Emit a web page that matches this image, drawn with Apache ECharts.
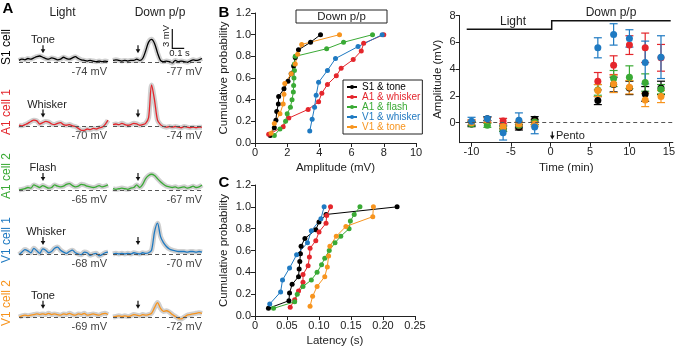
<!DOCTYPE html>
<html>
<head>
<meta charset="utf-8">
<script src="https://cdn.jsdelivr.net/npm/echarts@6/dist/echarts.min.js"></script>
<style>
  html, body { margin: 0; padding: 0; background: #fff; }
  #chart { width: 678px; height: 350px; }
</style>
</head>
<body>
<div id="chart"></div>
<script>
const FONT = '"Liberation Sans", Arial, sans-serif';
const INK = '#222';
const C_S1 = '#000000';
const C_A1W = '#e4262c';
const C_A1F = '#3aaa35';
const C_V1W = '#1f7ac2';
const C_V1T = '#f7941e';

// ---- Panel A: membrane potential traces (mV above rest), sampled every 25 ms
const TRACE_T = [0, 0.025, 0.05, 0.075, 0.1, 0.125, 0.15, 0.175, 0.2, 0.225, 0.25, 0.275, 0.3, 0.325, 0.35,
  0.375, 0.4, 0.425, 0.45, 0.475, 0.5, 0.525, 0.55, 0.575, 0.6, 0.625, 0.65, 0.675, 0.7, 0.725, 0.75];
const S1_LIGHT = [0.3, 0.5, 0.4, 0.6, 0.5, 0.7, 0.9, 1.0, 0.8, 0.6, 0.5, 0.7, 0.6, 0.4, 0.5, 0.8, 0.6, 0.5, 0.7, 0.9, 0.6, 0.4, 0.3, 0.2, 0.3, 0.2, 0.1, 0.2, 0.1, 0.2, 0.1];
const S1_DOWN = [0.3, 0.4, 0.3, 0.2, 0.3, 0.2, 0.3, 0.3, 0.5, 0.3, 0.6, 1.8, 3.2, 3.65, 3.0, 1.5, 0.3, 0.1, 0.2, 0.1, -0.1, 0.3, 0.1, 0.2, 0.1, 0.0, 0.2, 0.4, 0.3, 0.4, 0.6];
const A1W_LIGHT = [0.2, 0.1, 0.3, 0.5, 0.8, 1.0, 0.9, 0.4, 0.6, 0.8, 0.7, 0.4, 0.3, 0.5, 0.6, 0.3, 0.2, 0.3, 0.1, 0.0, -0.3, -0.6, -0.6, -0.4, -0.5, -0.3, -0.4, -0.2, -0.1, 0.3, 1.0];
const A1W_DOWN = [0.3, 0.4, 0.3, 0.5, 0.3, 0.2, 0.3, 0.5, 0.4, 0.2, 0.3, 0.5, 1.4, 6.6, 4.2, 1.0, 0.3, 0.0, -0.1, 0.0, -0.1, 0.0, -0.1, -0.2, 0.0, -0.1, -0.2, -0.1, -0.2, -0.1, -0.1];
const A1F_LIGHT = [0.0, 0.1, 0.2, 0.4, 0.3, 0.8, 0.6, 0.4, 0.7, 0.5, 0.3, 0.4, 0.8, 0.6, 0.5, 0.6, 0.9, 1.0, 0.7, 0.5, 0.6, 0.9, 0.8, 0.6, 0.5, 0.4, 0.5, 0.7, 0.5, 0.6, 0.8];
const A1F_DOWN = [0.2, 0.1, 0.2, 0.3, 0.2, 0.1, 0.3, 0.4, 0.8, 0.4, 0.9, 1.8, 2.3, 2.5, 2.3, 1.8, 1.3, 0.9, 0.6, 0.5, 0.4, 0.5, 0.3, 0.4, 0.5, 0.3, 0.4, 0.6, 0.4, 0.5, 0.8];
const V1W_LIGHT = [-0.1, 0.3, 0.7, 0.5, 0.2, 0.9, 0.5, 0.1, 0.8, 0.6, 0.2, 0.4, 0.9, 1.1, 0.6, 0.3, 0.1, 0.4, 0.6, 0.2, 0.0, -0.1, 0.3, 0.2, -0.2, 0.0, 0.1, -0.3, -0.1, 0.2, 0.3];
const V1W_DOWN = [0.0, 0.1, 0.0, 0.1, 0.0, 0.1, 0.0, 0.2, 0.1, 0.0, 0.2, 0.1, 0.2, 0.6, 3.5, 4.9, 2.8, 1.8, 1.2, 0.8, 0.6, 0.5, 0.4, 0.4, 0.4, 0.3, 0.4, 0.4, 0.3, 0.4, 0.3];
const V1T_LIGHT = [0.1, 0.3, 0.4, 0.3, 0.4, 0.5, 0.6, 0.5, 0.6, 0.5, 0.7, 0.5, 0.6, 0.5, 0.4, 0.6, 0.5, 0.7, 0.5, 0.4, 0.6, 0.5, 0.7, 0.4, 0.5, 0.6, 0.5, 0.4, 0.6, 0.7, 0.5];
const V1T_DOWN = [0.1, 0.2, 0.3, 0.2, 0.3, 0.2, 0.3, 0.5, 0.4, 0.3, 0.5, 0.4, 0.5, 0.7, 1.6, 2.4, 1.5, 1.0, 1.1, 0.9, 0.5, 0.2, -0.1, -0.2, 0.1, 0.4, 0.5, 0.6, 0.7, 0.8, 0.7];

const ROW_NAMES = ['S1 cell', 'A1 cell 1', 'A1 cell 2', 'V1 cell 1', 'V1 cell 2'];
const ROW_STIM = ['Tone', 'Whisker', 'Flash', 'Whisker', 'Tone'];
const REST_LIGHT = ['-74 mV', '-70 mV', '-65 mV', '-68 mV', '-69 mV'];
const REST_DOWN = ['-77 mV', '-74 mV', '-67 mV', '-70 mV', '-72 mV'];

// ---- Panel B (left) and C: cumulative distributions
const SERIES_NAMES = ['S1 & tone', 'A1 & whisker', 'A1 & flash', 'V1 & whisker', 'V1 & tone'];
const P_S1 = [0.07, 0.14, 0.21, 0.29, 0.36, 0.43, 0.5, 0.57, 0.64, 0.71, 0.79, 0.86, 0.93, 1.0];
const P_A1W = [0.08, 0.15, 0.23, 0.31, 0.38, 0.46, 0.54, 0.62, 0.69, 0.77, 0.85, 0.92, 1.0];
const P_A1F = [0.07, 0.13, 0.2, 0.27, 0.33, 0.4, 0.47, 0.53, 0.6, 0.67, 0.73, 0.8, 0.87, 0.93, 1.0];
const P_V1W = [0.11, 0.22, 0.33, 0.44, 0.56, 0.67, 0.78, 0.89, 1.0];
const P_V1T = [0.09, 0.18, 0.27, 0.36, 0.45, 0.55, 0.64, 0.73, 0.82, 0.91, 1.0];

const AMP_S1 = [0.95, 1.2, 1.3, 1.35, 1.45, 1.47, 1.8, 2.05, 2.25, 2.4, 2.5, 2.7, 3.45, 4.07];
const AMP_A1W = [0.85, 1.75, 2.1, 3.3, 3.95, 4.15, 4.5, 5.05, 5.35, 6.1, 6.6, 6.75, 8.0];
const AMP_A1F = [1.2, 1.55, 1.9, 2.0, 2.2, 2.3, 2.38, 2.4, 2.42, 2.45, 2.45, 2.5, 4.45, 5.5, 7.3];
const AMP_V1W = [3.4, 3.55, 3.7, 3.8, 3.95, 4.5, 5.0, 6.4, 7.9];
const AMP_V1T = [1.0, 1.2, 1.55, 1.75, 1.8, 1.85, 2.25, 2.5, 2.65, 2.9, 5.25];

const LAT_S1 = [0.021, 0.053, 0.054, 0.058, 0.068, 0.069, 0.07, 0.071, 0.072, 0.078, 0.095, 0.1, 0.111, 0.222];
const LAT_A1W = [0.055, 0.062, 0.068, 0.075, 0.075, 0.083, 0.085, 0.086, 0.095, 0.1, 0.111, 0.112, 0.118];
const LAT_A1F = [0.029, 0.062, 0.066, 0.075, 0.088, 0.097, 0.104, 0.109, 0.116, 0.125, 0.134, 0.147, 0.149, 0.155, 0.164];
const LAT_V1W = [0.023, 0.04, 0.043, 0.054, 0.065, 0.082, 0.088, 0.103, 0.108];
const LAT_V1T = [0.086, 0.09, 0.097, 0.109, 0.113, 0.115, 0.117, 0.127, 0.142, 0.184, 0.185];

// ---- Panel B (right): amplitude over time, mean and SEM
const TIME_MIN = [-10, -8, -6, -4, -2, 6, 8, 10, 12, 14];
const T_S1 = [-0.1, 0.3, -0.45, -0.35, 0.25, 1.65, 2.85, 2.6, 2.15, 2.6];
const T_S1_SEM = [0.2, 0.15, 0.2, 0.2, 0.2, 0.3, 0.55, 0.5, 0.55, 0.5];
const T_A1W = [0.0, 0.2, 0.12, -0.2, 0.05, 3.1, 4.3, 5.8, 5.6, 4.85];
const T_A1W_SEM = [0.2, 0.2, 0.2, 0.25, 0.2, 0.65, 0.7, 0.7, 1.1, 1.0];
const T_A1F = [-0.1, -0.2, -0.45, -0.2, 0.05, 2.45, 3.3, 3.4, 3.0, 2.5];
const T_A1F_SEM = [0.15, 0.15, 0.2, 0.2, 0.2, 0.4, 0.6, 0.85, 0.65, 0.35];
const T_V1W = [0.1, 0.3, -0.75, 0.18, -0.33, 5.6, 6.6, 6.3, 4.5, 4.9];
const T_V1W_SEM = [0.3, 0.15, 0.55, 0.55, 0.5, 0.75, 0.8, 0.65, 1.6, 1.6];
const T_V1T = [0.0, 0.2, -0.3, -0.1, -0.1, 2.4, 2.9, 2.65, 1.7, 1.95];
const T_V1T_SEM = [0.2, 0.2, 0.15, 0.2, 0.2, 0.45, 0.65, 0.5, 0.5, 0.45];

const chart = echarts.init(document.getElementById('chart'));

const PX_PER_MV = 6.3;
const ROW_BASELINE = [62.3, 126.5, 190, 254, 317.7];
const ROW_COLORS = [C_S1, C_A1W, C_A1F, C_V1W, C_V1T];
const ROW_TRACES = [[S1_LIGHT, S1_DOWN], [A1W_LIGHT, A1W_DOWN], [A1F_LIGHT, A1F_DOWN], [V1W_LIGHT, V1W_DOWN], [V1T_LIGHT, V1T_DOWN]];

const grids = [], xAxes = [], yAxes = [], series = [];

ROW_TRACES.forEach((pair, r) => {
  pair.forEach((trace, c) => {
    const gi = grids.length;
    grids.push({ left: c ? 113 : 19, top: ROW_BASELINE[r] - 8.5 * PX_PER_MV, width: 89, height: 10 * PX_PER_MV });
    xAxes.push({ gridIndex: gi, type: 'value', min: 0, max: 0.75, show: false });
    yAxes.push({ gridIndex: gi, type: 'value', min: -1.5, max: 8.5, show: false });
    const data = TRACE_T.map((t, i) => [t, trace[i]]);
    series.push({
      type: 'line', xAxisIndex: gi, yAxisIndex: gi, data, smooth: 0.3, symbol: 'none', silent: true,
      lineStyle: { color: 'rgba(150,150,150,0.45)', width: 5 }, z: 1,
    });
    series.push({
      type: 'line', xAxisIndex: gi, yAxisIndex: gi, data, smooth: 0.3, symbol: 'none', silent: true,
      lineStyle: { color: ROW_COLORS[r], width: 1.3 }, z: 3,
      markLine: {
        silent: true, symbol: 'none', label: { show: false },
        lineStyle: { color: '#555', type: [4, 3], width: 1 },
        data: [{ yAxis: 0 }],
      },
    });
  });
});

const axisCommon = {
  axisLine: { show: true, onZero: false, lineStyle: { color: INK, width: 1 } },
  axisTick: { show: true, length: 4, lineStyle: { color: INK } },
  axisLabel: { color: INK, fontSize: 11, fontFamily: FONT, margin: 4 },
  splitLine: { show: false },
  nameLocation: 'middle',
  nameTextStyle: { color: INK, fontSize: 11.5, fontFamily: FONT },
};

// grid 10: amplitude CDF, grid 11: time course, grid 12: latency CDF
const G_AMP = 10, G_TIME = 11, G_LAT = 12;
grids.push({ left: 255, top: 13, width: 161, height: 130 });
grids.push({ left: 459.7, top: 15.7, width: 216, height: 127 });
grids.push({ left: 255, top: 185, width: 160, height: 131 });

xAxes.push({ ...axisCommon, gridIndex: G_AMP, type: 'value', min: 0, max: 10, interval: 2, name: 'Amplitude (mV)', nameGap: 19 });
yAxes.push({ ...axisCommon, gridIndex: G_AMP, type: 'value', min: 0, max: 1.2, interval: 0.2, name: 'Cumulative probability', nameGap: 25,
  axisLabel: { ...axisCommon.axisLabel, formatter: v => v.toFixed(1) } });
xAxes.push({ ...axisCommon, gridIndex: G_TIME, type: 'value', min: -11.5, max: 15.5, name: 'Time (min)', nameGap: 19,
  axisLabel: { ...axisCommon.axisLabel, customValues: [-10, -5, 0, 5, 10, 15] },
  axisTick: { ...axisCommon.axisTick, customValues: [-10, -5, 0, 5, 10, 15] } });
yAxes.push({ ...axisCommon, gridIndex: G_TIME, type: 'value', min: -1.5, max: 8, name: 'Amplitude (mV)', nameGap: 16,
  axisLabel: { ...axisCommon.axisLabel, customValues: [0, 2, 4, 6, 8] },
  axisTick: { ...axisCommon.axisTick, customValues: [0, 2, 4, 6, 8] } });
xAxes.push({ ...axisCommon, gridIndex: G_LAT, type: 'value', min: 0, max: 0.25, interval: 0.05, name: 'Latency (s)', nameGap: 19,
  axisLabel: { ...axisCommon.axisLabel, formatter: v => (v === 0 ? '0' : v.toFixed(2)) } });
yAxes.push({ ...axisCommon, gridIndex: G_LAT, type: 'value', min: 0, max: 1.2, interval: 0.2, name: 'Cumulative probability', nameGap: 25,
  axisLabel: { ...axisCommon.axisLabel, formatter: v => v.toFixed(1) } });

const GROUP_COLORS = [C_S1, C_A1W, C_A1F, C_V1W, C_V1T];
const GROUP_P = [P_S1, P_A1W, P_A1F, P_V1W, P_V1T];
const GROUP_AMP = [AMP_S1, AMP_A1W, AMP_A1F, AMP_V1W, AMP_V1T];
const GROUP_LAT = [LAT_S1, LAT_A1W, LAT_A1F, LAT_V1W, LAT_V1T];

function cdfSeries(name, color, xs, ps, gi) {
  return {
    name, type: 'line', xAxisIndex: gi, yAxisIndex: gi,
    data: xs.map((x, i) => [x, ps[i]]),
    symbol: 'circle', symbolSize: 5, silent: true,
    itemStyle: { color }, lineStyle: { color, width: 1 },
  };
}

SERIES_NAMES.forEach((name, k) => {
  series.push(cdfSeries(name, GROUP_COLORS[k], GROUP_AMP[k], GROUP_P[k], G_AMP));
});
SERIES_NAMES.forEach((name, k) => {
  series.push(cdfSeries(name, GROUP_COLORS[k], GROUP_LAT[k], GROUP_P[k], G_LAT));
});

function errorBar(params, api) {
  const x = api.value(0);
  const top = api.coord([x, api.value(2)]);
  const bot = api.coord([x, api.value(1)]);
  const w = 4;
  const style = { stroke: api.visual('color'), lineWidth: 1.2 };
  return {
    type: 'group',
    children: [
      { type: 'line', shape: { x1: top[0], y1: top[1], x2: bot[0], y2: bot[1] }, style },
      { type: 'line', shape: { x1: top[0] - w, y1: top[1], x2: top[0] + w, y2: top[1] }, style },
      { type: 'line', shape: { x1: bot[0] - w, y1: bot[1], x2: bot[0] + w, y2: bot[1] }, style },
    ],
  };
}

// draw order: black, red, green, orange, blue (blue on top)
const TIME_GROUPS = [
  [C_S1, T_S1, T_S1_SEM], [C_A1W, T_A1W, T_A1W_SEM], [C_A1F, T_A1F, T_A1F_SEM],
  [C_V1T, T_V1T, T_V1T_SEM], [C_V1W, T_V1W, T_V1W_SEM],
];
TIME_GROUPS.forEach(([color, mean, sem], k) => {
  series.push({
    type: 'custom', xAxisIndex: G_TIME, yAxisIndex: G_TIME, silent: true,
    itemStyle: { color },
    renderItem: errorBar,
    encode: { x: 0, y: [1, 2] },
    data: TIME_MIN.map((t, i) => [t, mean[i] - sem[i], mean[i] + sem[i]]),
    markLine: k === 0 ? {
      silent: true, symbol: 'none', label: { show: false },
      lineStyle: { color: '#555', type: [4, 3], width: 1 },
      data: [[{ coord: [-10.8, 0] }, { coord: [15.5, 0] }]],
    } : undefined,
  });
  series.push({
    type: 'scatter', xAxisIndex: G_TIME, yAxisIndex: G_TIME, silent: true,
    symbolSize: 7, itemStyle: { color, opacity: 1 },
    data: TIME_MIN.map((t, i) => [t, mean[i]]),
  });
});

// ---- annotations
function text(str, x, y, o = {}) {
  const align = o.align || 'center';
  return {
    type: 'text', x, y, rotation: o.rot || 0, silent: true,
    style: {
      text: str, fill: o.color || INK,
      font: `${o.weight || 'normal'} ${o.size || 11}px ${FONT}`,
      align, textAlign: align, verticalAlign: 'middle', textVerticalAlign: 'middle',
    },
  };
}
function arrowDown(x, y1, y2) {
  return {
    type: 'group', silent: true,
    children: [
      { type: 'line', shape: { x1: x, y1, x2: x, y2: y2 - 3 }, style: { stroke: '#111', lineWidth: 1.2 } },
      { type: 'polygon', shape: { points: [[x - 2.3, y2 - 4], [x + 2.3, y2 - 4], [x, y2]] }, style: { fill: '#111' } },
    ],
  };
}

const STIM_X = [43, 47, 43, 46, 43];
const LABEL_Y = [47, 112, 176, 240, 303];
const graphic = [
  text('A', 8, 9, { weight: 'bold', size: 15, color: '#000' }),
  text('B', 224, 13, { weight: 'bold', size: 15, color: '#000' }),
  text('C', 224, 183, { weight: 'bold', size: 15, color: '#000' }),
  text('Light', 62.5, 13, { size: 12 }),
  text('Down p/p', 160, 13, { size: 12 }),
  // scale bar
  { type: 'polyline', silent: true, shape: { points: [[172.3, 29], [172.3, 48.3], [184.2, 48.3]] }, style: { stroke: '#111', lineWidth: 1.2, fill: null } },
  text('3 mV', 166.5, 36, { size: 9.5, rot: Math.PI / 2 }),
  text('0.1 s', 179.5, 53.8, { size: 9.5 }),
  // box above amplitude CDF
  { type: 'rect', silent: true, shape: { x: 296, y: 10, width: 91, height: 13 }, style: { stroke: INK, lineWidth: 1, fill: '#fff' } },
  text('Down p/p', 341.5, 16.8, { size: 11.5 }),
  // time-course bracket
  { type: 'polyline', silent: true, shape: { points: [[466.7, 29.3], [551.7, 29.3], [551.7, 20.7], [670.7, 20.7]] }, style: { stroke: '#111', lineWidth: 1.5, fill: null } },
  text('Light', 513, 21.5, { size: 12 }),
  text('Down p/p', 611, 12.5, { size: 12 }),
  arrowDown(552.3, 131.5, 139.5),
  text('Pento', 556, 135.8, { size: 11, align: 'left' }),
];
ROW_NAMES.forEach((name, r) => {
  const b = ROW_BASELINE[r];
  graphic.push(text(name, 7, LABEL_Y[r], { size: 12, color: ROW_COLORS[r], rot: Math.PI / 2 }));
  graphic.push(text(ROW_STIM[r], STIM_X[r], b - 22, { size: 11 }));
  graphic.push(arrowDown(43, b - 17, b - 9));
  graphic.push(arrowDown(138, b - 17, b - 9));
  graphic.push(text(REST_LIGHT[r], 107, b + 9.5, { size: 11, color: '#444', align: 'right' }));
  graphic.push(text(REST_DOWN[r], 202, b + 9.5, { size: 11, color: '#444', align: 'right' }));
});

chart.setOption({
  animation: false,
  backgroundColor: '#fff',
  textStyle: { fontFamily: FONT },
  grid: grids,
  xAxis: xAxes,
  yAxis: yAxes,
  legend: {
    left: 343, top: 80, orient: 'vertical', selectedMode: false,
    borderColor: INK, borderWidth: 1, padding: [2, 2, 2, 3],
    itemGap: 0, itemWidth: 10, itemHeight: 5,
    textStyle: { fontSize: 10, fontFamily: FONT, lineHeight: 9 },
    data: SERIES_NAMES.map((name, k) => ({ name, textStyle: { color: GROUP_COLORS[k] } })),
  },
  series,
  graphic,
});
</script>
</body>
</html>
